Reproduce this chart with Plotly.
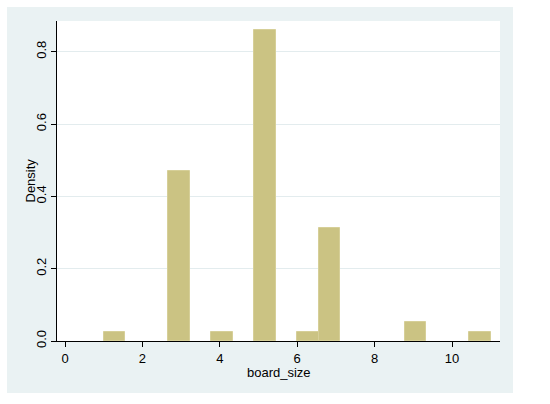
import plotly.graph_objects as go

# Histogram of board_size: 18 bins from 1 to 11 (width 10/18)
bin_start = 1.0
bin_width = 10.0 / 18.0
bin_index = [0, 3, 5, 7, 9, 10, 14, 17]
density = [0.026, 0.470, 0.026, 0.861, 0.026, 0.313, 0.052, 0.026]

x_ticks = [0, 2, 4, 6, 8, 10]
y_ticks = [0.0, 0.2, 0.4, 0.6, 0.8]
y_tick_text = ["0.0", "0.2", "0.4", "0.6", "0.8"]

x_title = "board_size"
y_title = "Density"

centers = [bin_start + (i + 0.5) * bin_width for i in bin_index]

W, H = 550, 404
L, R, T, B = 57, 50, 21, 63
pw, ph = W - L - R, H - T - B

def px_x(p):
    return (p - L) / pw

def px_y(p):
    return (H - B - p) / ph

fig = go.Figure()
fig.add_trace(go.Bar(
    x=centers, y=density, width=bin_width,
    marker=dict(color="#cbc383", line=dict(color="#d6cf98", width=1)),
    hoverinfo="x+y",
))

font = dict(family="Liberation Sans, Arial, sans-serif", size=13, color="#000000")

fig.update_layout(
    width=W, height=H,
    margin=dict(l=L, r=R, t=T, b=B, pad=0),
    paper_bgcolor="white",
    plot_bgcolor="rgba(0,0,0,0)",
    font=font,
    showlegend=False,
    bargap=0,
    shapes=[
        dict(type="rect", xref="paper", yref="paper", layer="below",
             x0=px_x(7), x1=px_x(513), y0=px_y(393), y1=px_y(7),
             fillcolor="#eaf2f3", line=dict(width=0)),
        dict(type="rect", xref="paper", yref="paper", layer="below",
             x0=0, x1=1, y0=0, y1=1,
             fillcolor="white", line=dict(width=0)),
    ],
    annotations=[
        dict(text=x_title, xref="paper", yref="paper",
             x=px_x(278.5), y=px_y(372), xanchor="center", yanchor="middle",
             showarrow=False, font=font),
        dict(text=y_title, xref="paper", yref="paper", textangle=-90,
             x=px_x(29.5), y=px_y(181), xanchor="center", yanchor="middle",
             showarrow=False, font=font),
    ],
    xaxis=dict(
        range=[-0.207, 11.24], automargin=False,
        tickmode="array", tickvals=x_ticks,
        ticks="outside", ticklen=5, tickwidth=1, tickcolor="#000000",
        showline=True, linecolor="#000000", linewidth=1.2,
        showgrid=False, zeroline=False,
        tickfont=font,
    ),
    yaxis=dict(
        range=[0, 0.885], automargin=False,
        tickmode="array", tickvals=y_ticks, ticktext=y_tick_text,
        tickangle=-90,
        ticks="outside", ticklen=5, tickwidth=1, tickcolor="#000000",
        showline=True, linecolor="#000000", linewidth=1.2,
        showgrid=True, gridcolor="#e3ecee", gridwidth=1,
        zeroline=False,
        tickfont=font,
    ),
)

fig.write_html(
    "out.html",
    config={"displayModeBar": False},
    post_script="document.body.style.margin='0';document.body.style.padding='0';",
)
